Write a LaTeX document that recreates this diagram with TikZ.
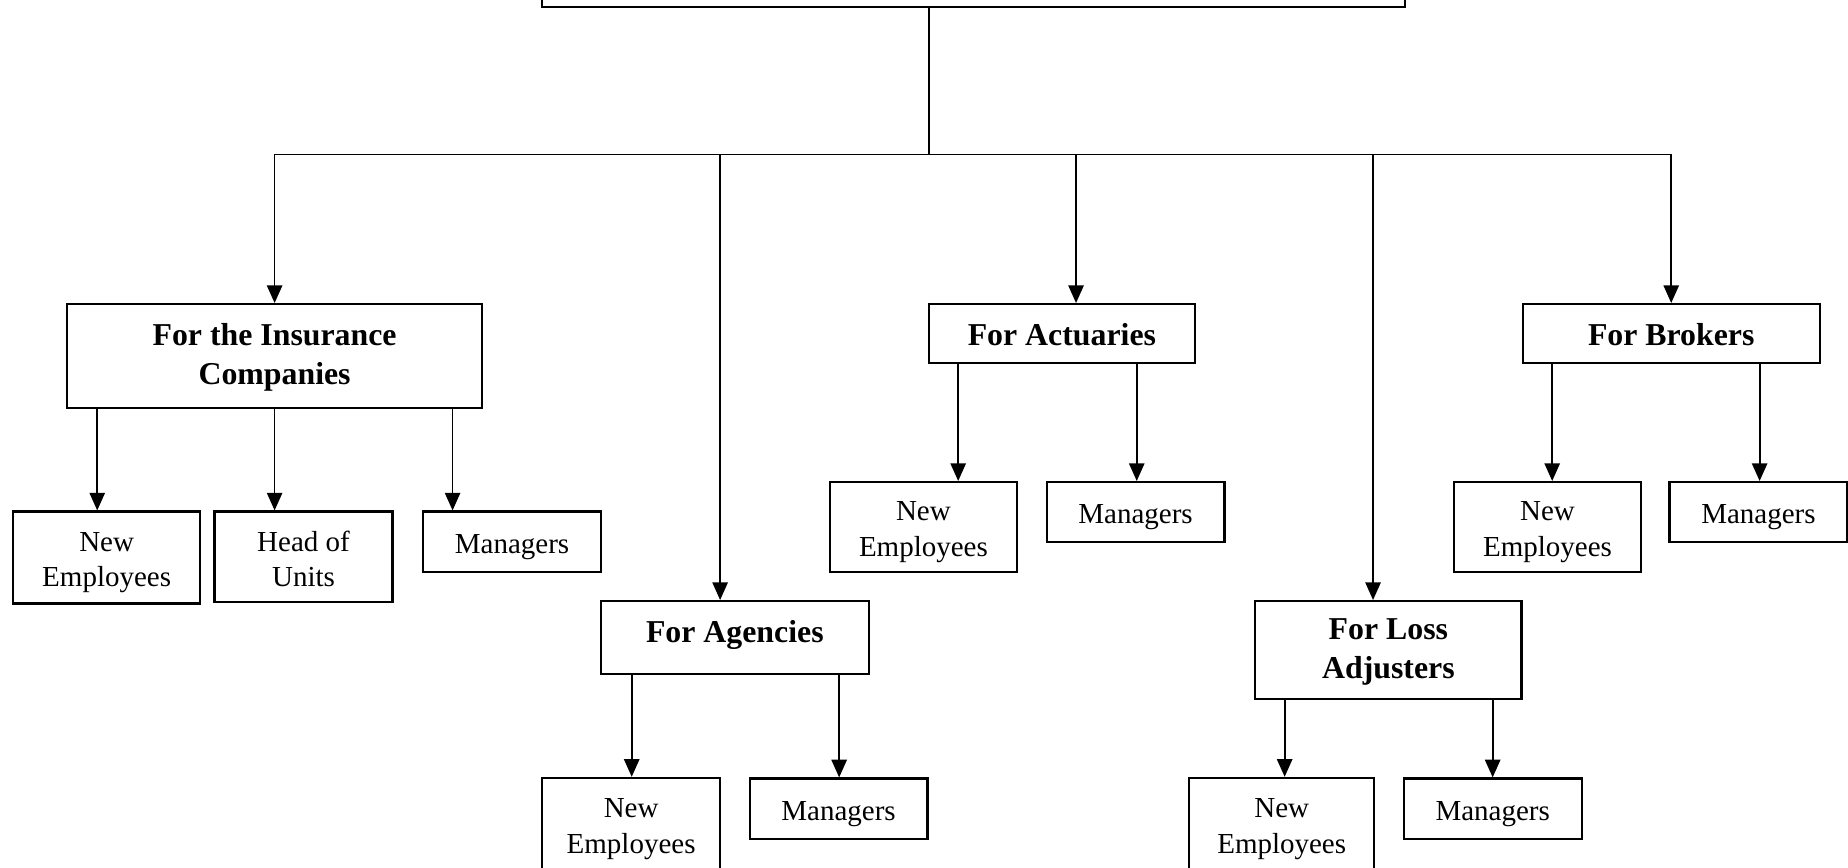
\documentclass[tikz,border=0pt]{standalone}
\usepackage{fontspec}
\setmainfont{Liberation Serif}
\usetikzlibrary{arrows.meta}
\newcommand\rstr{\rule[-2.5pt]{0pt}{15pt}}
\newcommand\bstr{\rule[-4.5pt]{0pt}{16.5pt}}
\newcommand\sstr{\rule[-3pt]{0pt}{16.5pt}}
\newcommand\astr{\rule[-6.25pt]{0pt}{16.5pt}}
\begin{document}
\begin{tikzpicture}[x=0.5pt,y=-0.5pt,
  box/.style={draw, line width=0.9pt, inner sep=0pt, align=center, font=\fontsize{12.3}{15}\selectfont},
  head/.style={box, font=\bfseries\fontsize{13.5}{16.5}\selectfont},
  arr/.style={line width=0.75pt, -{Triangle[length=7.5pt,width=6.5pt]}},
  link/.style={line width=0.75pt}]
\useasboundingbox (0,0) rectangle (1568,736);
\clip (0,0) rectangle (1568,736);

% top (cropped) box
\node[box, minimum width=366pt, minimum height=26pt] (top) at (826,-20) {};

% level 1
\node[head, minimum width=176pt, minimum height=44pt] (ins) at (233,302) {\bstr For the Insurance\\\bstr Companies};
\node[head, minimum width=113pt, minimum height=25pt] (act) at (901,283) {\sstr For Actuaries};
\node[head, minimum width=126pt, minimum height=25pt] (bro) at (1418,283) {\sstr For Brokers};
\node[head, minimum width=113.5pt, minimum height=31pt] (ag) at (623.5,541) {\astr For Agencies};
\node[head, minimum width=113pt, minimum height=41.5pt] (loss) at (1178,551.5) {\bstr For Loss\\\bstr Adjusters};

% level 2
\node[box, minimum width=79.5pt, minimum height=39pt] (ne1) at (90.5,473) {\rstr New\\\rstr Employees};
\node[box, minimum width=75.5pt, minimum height=38.5pt] (hu) at (257.5,472.5) {\rstr Head of\\\rstr Units};
\node[box, minimum width=75.5pt, minimum height=25.5pt] (m1) at (434.5,459.5) {\rstr Managers};

\node[box, minimum width=79.5pt, minimum height=38pt] (ne2) at (783.5,447) {\rstr New\\\rstr Employees};
\node[box, minimum width=75.5pt, minimum height=25.5pt] (m2) at (963.5,434.5) {\rstr Managers};

\node[box, minimum width=79pt, minimum height=38pt] (ne3) at (1313,447) {\rstr New\\\rstr Employees};
\node[box, minimum width=75.5pt, minimum height=25.5pt] (m3) at (1492,434.5) {\rstr Managers};

\node[box, minimum width=75.5pt, minimum height=39pt] (ne4) at (535.5,699) {\rstr New\\\rstr Employees};
\node[box, minimum width=75.5pt, minimum height=25.5pt] (m4) at (711.5,686) {\rstr Managers};

\node[box, minimum width=78.5pt, minimum height=39pt] (ne5) at (1087.5,699) {\rstr New\\\rstr Employees};
\node[box, minimum width=75.5pt, minimum height=25.5pt] (m5) at (1266.5,686) {\rstr Managers};

% trunk and bus
\coordinate (bus) at (788,131);
\draw[link] (top.south -| bus) -- (bus);
\draw[link] (ins.north |- bus) -- (bro.north |- bus);

% drops to level 1
\draw[arr] (ins.north |- bus) -- (ins.north);
\coordinate (dag) at ([xshift=-6.25pt]ag.north);
\draw[arr] (dag |- bus) -- (dag);
\coordinate (dact) at ([xshift=6pt]act.north);
\draw[arr] (dact |- bus) -- (dact);
\coordinate (dloss) at ([xshift=-6.5pt]loss.north);
\draw[arr] (dloss |- bus) -- (dloss);
\draw[arr] (bro.north |- bus) -- (bro.north);

% level 2 arrows
\draw[arr] ([xshift=-75.25pt]ins.south) -- ([xshift=-4pt]ne1.north);
\draw[arr] (ins.south) -- ([xshift=-12.25pt]hu.north);
\draw[arr] ([xshift=75.5pt]ins.south) -- ([xshift=-25.25pt]m1.north);

\draw[arr] ([xshift=-44pt]act.south) -- ([xshift=14.75pt]ne2.north);
\draw[arr] ([xshift=31.75pt]act.south) -- ([xshift=0.5pt]m2.north);

\draw[arr] ([xshift=-50.5pt]bro.south) -- ([xshift=2pt]ne3.north);
\draw[arr] ([xshift=37.5pt]bro.south) -- ([xshift=0.5pt]m3.north);

\draw[arr] ([xshift=-43.75pt]ag.south) -- ([xshift=0.25pt]ne4.north);
\draw[arr] ([xshift=44.25pt]ag.south) -- ([xshift=0.25pt]m4.north);

\draw[arr] ([xshift=-44pt]loss.south) -- ([xshift=1.25pt]ne5.north);
\draw[arr] ([xshift=44.25pt]loss.south) -- (m5.north);
\end{tikzpicture}
\end{document}
